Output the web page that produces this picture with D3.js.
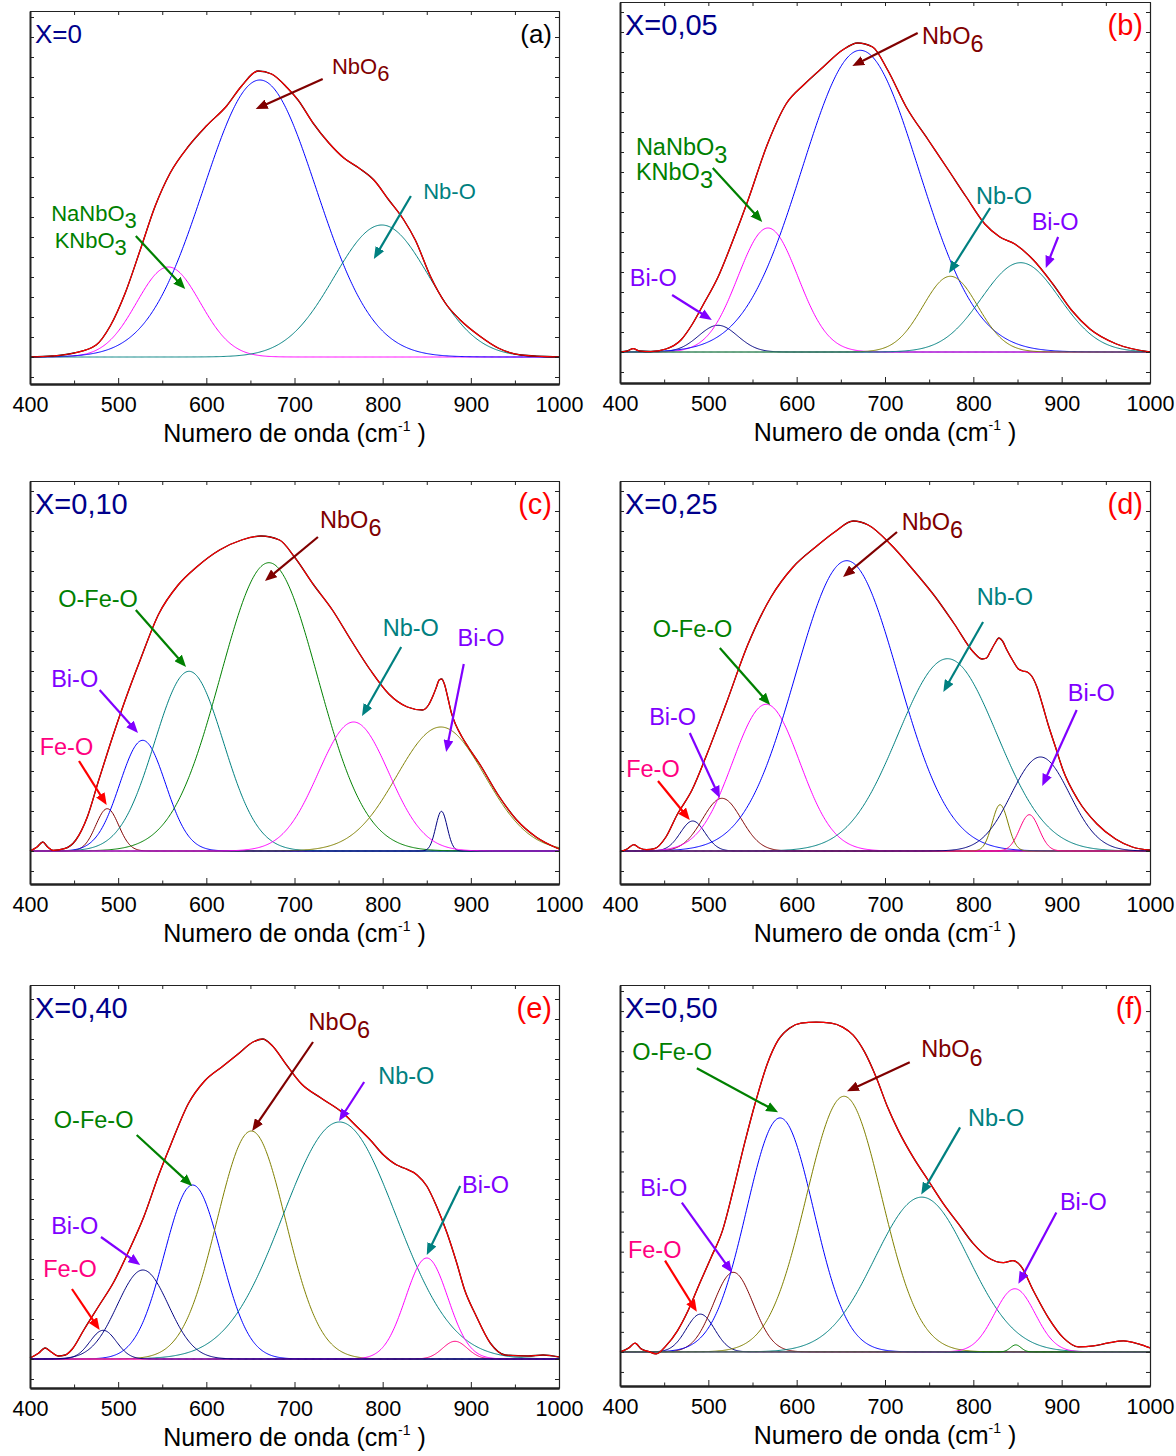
<!DOCTYPE html>
<html>
<head>
<meta charset="utf-8">
<script src="https://cdn.jsdelivr.net/npm/d3@7"></script>
<style>
  body { margin: 0; background: #fff; }
  svg { display: block; }
  text { font-family: "Liberation Sans", Arial, sans-serif; }
</style>
</head>
<body>
<script>
// Raman spectra, 6 compositions, with fitted bands

// x axis
var waveTicks = [400, 500, 600, 700, 800, 900, 1000];
var waveMinor = [450, 550, 650, 750, 850, 950];

var compositions = ["X=0", "X=0,05", "X=0,10", "X=0,25", "X=0,40", "X=0,50"];
var panelLetters = ["(a)", "(b)", "(c)", "(d)", "(e)", "(f)"];

// intensity window of each panel (a.u., 0 = baseline)
var intensityRanges = [[-27, 346], [-31, 350], [-33, 370], [-33, 370], [-29, 374], [-34, 366]];

// measured spectra : [wavenumber, intensity]
var spectrumA = [[400,0],[425,1],[450,4],[475,12],[491,31],[508,64],[525,107],[542,151],[559,184],[580,211],
  [600,231],[623,251],[640,271],[659,286],[674,283],[692,269],[704,257],[721,234],[739,214],[756,199],
  [773,189],[790,177],[807,157],[824,137],[837,117],[854,81],[871,54],[888,37],[910,21],[931,9],[957,2],[1000,0]];
var spectrumB = [[400,0],[408,1],[415,3.3],[422,1],[435,0.5],[452,3],[469,12],[482,28],[494,47],[511,75],
  [528,112],[545,152],[567,208],[588,248],[609,268],[630,285],[652,302],[669,309],[686,305],[703,282],
  [724,245],[749,212],[771,183],[792,155],[813,128],[830,115],[847,108],[868,92],[890,68],[911,42],
  [932,23],[962,8],[1000,0]];
var spectrumC = [[400,0],[408,4],[414.5,9],[420,4],[426,0.7],[439,2.3],[452,11],[465,34],[478,71],[491,107],
  [508,151],[525,191],[546,237],[568,266],[589,284],[615,301],[640,311],[662,315],[683,311],[700,294],
  [721,267],[743,241],[764,211],[786,181],[807,157],[828,144],[845,141],[852,146],[857,155],[861,164],
  [864,171],[867,172],[870,167],[874,153],[878,138],[883,126],[890,114],[897,104],[910,87],[931,56],
  [952,31],[974,14],[1000,2]];
var spectrumD = [[400,-1],[408,2],[415.7,6.3],[422,3],[430,1.3],[439,2.3],[452,14],[464.5,36],[481.5,61],
  [498.5,97],[520,147],[545,207],[571,254],[596,284],[621.5,304],[643,319],[664,330],[681,326],[706,307],
  [732,281],[757,254],[778.5,227],[800,199],[810,192],[815,193],[819,199],[824,207],[829,213],[833,210],
  [838,201],[845,190],[851,182],[856,180],[861,179],[866,175],[872,164],[878,147],[884.5,127],[893,104],
  [901.5,81],[918.5,51],[940,27],[961,12],[980,4],[1000,1]];
var spectrumE = [[400,1],[410,6],[417,11],[424,7],[432,3],[440,4],[448,10],[461,29],[478,53],[495,77],
  [512,108],[529,142],[546,184],[560,215],[580,256],[598,278],[619,293],[636,305],[653,317],[664,320],
  [674,314],[691,294],[708,275],[730,261],[755,246],[770,233],[786,219],[801,204],[816,194],[824,191],
  [839,184],[850,173],[861,153],[873,126],[884,96],[893,69],[905,45],[922,16],[939,4],[965,3],[982,4],[1000,2]];
var spectrumF = [[400,0],[410,4],[417,8.7],[424,3],[432,0.5],[441,-2],[452,6],[465,21],[477,41],[490,68],
  [503,94],[516,121],[528,161],[541,208],[554,251],[567,288],[579,311],[592,323],[605,328],[622,329],
  [639,328],[652,324],[664,316],[677,299],[690,274],[703,244],[715,221],[732,194],[749,171],[766,148],
  [783,128],[800,108],[817,94],[834,89],[845,91],[853.5,86],[868,61],[885,34],[902,14],[919,5],[936,6],
  [953,9],[970,11],[987,8],[1000,4]];

// fitted bands : [centre, height, sigma]
var bandsA = [[557,90,36],[660.7,277,64],[799,132,54]];
var bandsB = [[511,26.7,22],[567.5,124,34],[672,301.7,66],[774,75.7,31],[853.5,89.3,44]];
var bandsC = [[487.6,42.3,13],[527.8,110.7,26],[580.4,179.7,39],[671,288.3,55],[866,124,50],[866.7,39.7,6.5],[767,129,40]];
var bandsD = [[482.3,30,14],[515.4,52.7,22],[565.5,146.7,38],[656.7,290.3,58],[770.8,192.3,56],[830.3,46.3,9],[863.4,36.3,11],[876,94,33]];
var bandsE = [[584.5,174,32],[651,228,39],[751,237,64],[850,101,24],[882,17.7,14],[483,28.7,15],[528,89,29]];
var bandsF = [[491,37.7,16],[528.3,79.4,22.5],[581.2,233.4,38],[653.6,255,42.7],[741.6,154.4,53],[847,63,23],[848,7,6]];

var bandColorsA = ["#ff00ff","#0000ff","#008080"];
var bandColorsB = ["#000080","#ff00ff","#0000ff","#808000","#008080"];
var bandColorsC = ["#800000","#0000ff","#008080","#008000","#808000","#000080","#ff00ff"];
var bandColorsD = ["#000080","#800000","#ff00ff","#0000ff","#008080","#808000","#ff0080","#000080"];
var bandColorsE = ["#0000ff","#808000","#008080","#ff00ff","#ff0080","#000080","#000080"];
var bandColorsF = ["#000080","#800000","#0000ff","#808000","#008080","#ff00ff","#008000"];

var DR = "#800000", GR = "#008000", TE = "#008080", VI = "#8000ff", PK = "#ff0080", RD = "#ff0000";

// annotations, in data coordinates (wavenumber, intensity)
var notesA = [
  {t:"NbO", s:"6", at:[742.5,291], from:[732,278], to:[656,248], tc:DR, ac:DR},
  {t:"NaNbO", s:"3", at:[424,144], tc:GR},
  {t:"KNbO", s:"3", at:[428,117], from:[520,121], to:[576,68], tc:GR, ac:GR},
  {t:"Nb-O", at:[846,166], from:[832,161], to:[790,98], tc:TE, ac:TE}
];
var notesB = [
  {t:"NbO", s:"6", at:[742,316], from:[737,319], to:[663,286], tc:DR, ac:DR},
  {t:"NaNbO", s:"3", at:[418,205], tc:GR},
  {t:"KNbO", s:"3", at:[418,180], from:[505,184], to:[561,130], tc:GR, ac:GR},
  {t:"Bi-O", at:[411,74], from:[459,57], to:[504,32], tc:VI, ac:VI},
  {t:"Nb-O", at:[803,156], from:[819,144], to:[772.5,79], tc:TE, ac:TE},
  {t:"Bi-O", at:[866,130], from:[896,115], to:[882,84], tc:VI, ac:VI}
];
var notesC = [
  {t:"NbO", s:"6", at:[729,331], from:[726.6,314], to:[666.5,270], tc:DR, ac:DR},
  {t:"O-Fe-O", at:[432,252], from:[520,241], to:[577,184], tc:GR, ac:GR},
  {t:"Bi-O", at:[424,172], from:[479,161], to:[522.5,118], tc:VI, ac:VI},
  {t:"Fe-O", at:[411,104], from:[455.6,90], to:[487,46], tc:PK, ac:RD},
  {t:"Nb-O", at:[800,223], from:[821,204], to:[776.6,135], tc:TE, ac:TE},
  {t:"Bi-O", at:[885,213], from:[892,187], to:[872,99], tc:VI, ac:VI}
];
var notesD = [
  {t:"NbO", s:"6", at:[719,329], from:[713.6,319], to:[652.5,274], tc:DR, ac:DR},
  {t:"O-Fe-O", at:[437,222], from:[513,203], to:[570,146], tc:GR, ac:GR},
  {t:"Bi-O", at:[433,134], from:[479,118], to:[513,53], tc:VI, ac:VI},
  {t:"Fe-O", at:[407,82], from:[443,70], to:[479,31], tc:PK, ac:RD},
  {t:"Nb-O", at:[804,254], from:[811,229], to:[766,159], tc:TE, ac:TE},
  {t:"Bi-O", at:[907,158], from:[917,141], to:[878,65], tc:VI, ac:VI}
];
var notesE = [
  {t:"NbO", s:"6", at:[716,337], from:[721,317], to:[652,228], tc:DR, ac:DR},
  {t:"O-Fe-O", at:[427,239], from:[521,224], to:[584,173], tc:GR, ac:GR},
  {t:"Bi-O", at:[424,133], from:[480.5,122], to:[525,94], tc:VI, ac:VI},
  {t:"Fe-O", at:[415,90], from:[447.6,70], to:[479,29], tc:PK, ac:RD},
  {t:"Nb-O", at:[795,283], from:[779,277], to:[750.5,238], tc:TE, ac:VI},
  {t:"Bi-O", at:[890,174], from:[888,173], to:[850,104], tc:VI, ac:TE}
];
var notesF = [
  {t:"O-Fe-O", at:[414,299], from:[487,283], to:[579,239], tc:GR, ac:GR},
  {t:"NbO", s:"6", at:[741,302], from:[728,289], to:[657,260], tc:DR, ac:DR},
  {t:"Nb-O", at:[794,234], from:[785,224], to:[741,157], tc:TE, ac:TE},
  {t:"Bi-O", at:[423,164], from:[470,149], to:[527,79], tc:VI, ac:VI},
  {t:"Fe-O", at:[409,102], from:[451,91], to:[487,40], tc:PK, ac:RD},
  {t:"Bi-O", at:[898,150], from:[894,139], to:[851,68], tc:VI, ac:VI}
];

// page layout of the six frames
var frames = [
  {left:30,  right:559,  top:11,  bottom:384},
  {left:620, right:1150, top:2,   bottom:383},
  {left:30,  right:559,  top:481, bottom:884},
  {left:620, right:1150, top:481, bottom:884},
  {left:30,  right:559,  top:985, bottom:1388},
  {left:620, right:1150, top:985, bottom:1386}
];

var panels = [
  {spec:spectrumA, bands:bandsA, colors:bandColorsA, notes:notesA, noteSize:22, capSize:26, letterColor:"#000"},
  {spec:spectrumB, bands:bandsB, colors:bandColorsB, notes:notesB, noteSize:23.5, capSize:29, letterColor:RD},
  {spec:spectrumC, bands:bandsC, colors:bandColorsC, notes:notesC, noteSize:23.5, capSize:29, letterColor:RD},
  {spec:spectrumD, bands:bandsD, colors:bandColorsD, notes:notesD, noteSize:23.5, capSize:29, letterColor:RD},
  {spec:spectrumE, bands:bandsE, colors:bandColorsE, notes:notesE, noteSize:23.5, capSize:29, letterColor:RD},
  {spec:spectrumF, bands:bandsF, colors:bandColorsF, notes:notesF, noteSize:23.5, capSize:29, letterColor:RD}
];

var svg = d3.select("body").append("svg")
  .attr("width", 1176)
  .attr("height", 1456);
var defs = svg.append("defs");

function arrowHead(color) {
  var id = "ah" + color.slice(1);
  if (defs.select("#" + id).empty()) {
    defs.append("marker")
      .attr("id", id)
      .attr("viewBox", "0 0 12 10")
      .attr("refX", 4).attr("refY", 5)
      .attr("markerWidth", 12).attr("markerHeight", 10)
      .attr("markerUnits", "userSpaceOnUse")
      .attr("orient", "auto")
      .append("path")
      .attr("d", "M0,0 L12,5 L0,10 Z")
      .attr("fill", color);
  }
  return "url(#" + id + ")";
}

var grid = d3.range(400, 1000.5, 1);

panels.forEach(function(p, i) {
  var f = frames[i];
  var x = d3.scaleLinear().domain([400, 1000]).range([f.left, f.right]);
  var y = d3.scaleLinear().domain(intensityRanges[i]).range([f.bottom, f.top]);
  var line = d3.line().x(function(d){ return x(d[0]); }).y(function(d){ return y(d[1]); });
  var g = svg.append("g");

  // fitted bands
  p.bands.forEach(function(b, k) {
    var pts = grid.map(function(w) {
      return [w, b[1] * Math.exp(-0.5 * Math.pow((w - b[0]) / b[2], 2))];
    });
    g.append("path").datum(pts)
      .attr("d", line)
      .attr("fill", "none")
      .attr("stroke", p.colors[k])
      .attr("stroke-width", 1);
  });

  // experimental (black) under cumulative fit (red)
  var smooth = d3.line().curve(d3.curveMonotoneX)
    .x(function(d){ return x(d[0]); }).y(function(d){ return y(d[1]); });
  g.append("path").datum(p.spec).attr("d", smooth)
    .attr("fill", "none").attr("stroke", "#000").attr("stroke-width", 1.3);
  g.append("path").datum(p.spec).attr("d", smooth)
    .attr("fill", "none").attr("stroke", "#f00").attr("stroke-width", 1.2);

  // axes (all ticks inward)
  function styleAxis(a, w) {
    a.attr("font-family", null).attr("font-size", null);
    a.select(".domain").attr("stroke", "#222").attr("stroke-width", w);
    a.selectAll(".tick line").attr("stroke", "#222").attr("stroke-width", 1);
  }
  var bottom = g.append("g").attr("transform", "translate(0," + f.bottom + ")")
    .call(d3.axisBottom(x).tickValues(waveTicks).tickFormat(d3.format("d"))
      .tickSizeInner(-6).tickSizeOuter(0).tickPadding(13));
  styleAxis(bottom, 2);
  bottom.selectAll("text").attr("font-size", 21.5).attr("fill", "#000");
  var bottomMinor = g.append("g").attr("transform", "translate(0," + f.bottom + ")")
    .call(d3.axisBottom(x).tickValues(waveMinor).tickSizeInner(-3.5).tickSizeOuter(0).tickFormat(""));
  styleAxis(bottomMinor, 2);
  var top = g.append("g").attr("transform", "translate(0," + f.top + ")")
    .call(d3.axisTop(x).tickValues(waveTicks.concat(waveMinor)).tickSizeInner(-4).tickSizeOuter(0).tickFormat(""));
  styleAxis(top, 1.2);
  var yt = y.ticks(14);
  var left = g.append("g").attr("transform", "translate(" + f.left + ",0)")
    .call(d3.axisLeft(y).tickValues(yt).tickSizeInner(-4).tickSizeOuter(0).tickFormat(""));
  styleAxis(left, 2);
  var right = g.append("g").attr("transform", "translate(" + f.right + ",0)")
    .call(d3.axisRight(y).tickValues(yt).tickSizeInner(-4).tickSizeOuter(0).tickFormat(""));
  styleAxis(right, 1.2);

  // axis title
  var title = g.append("text")
    .attr("x", (f.left + f.right) / 2)
    .attr("y", f.bottom + 49)
    .attr("dy", "0.35em")
    .attr("text-anchor", "middle")
    .attr("font-size", 25);
  title.append("tspan").text("Numero de onda (cm");
  title.append("tspan").attr("font-size", 14).attr("dy", -11).text("-1");
  title.append("tspan").attr("dy", 11).text(" )");

  // corner labels
  g.append("text")
    .attr("x", f.left + 5).attr("y", f.top + 23).attr("dy", "0.35em")
    .attr("font-size", p.capSize).attr("fill", "#00008b")
    .text(compositions[i]);
  g.append("text")
    .attr("x", f.right - 7).attr("y", f.top + 23).attr("dy", "0.35em")
    .attr("text-anchor", "end")
    .attr("font-size", p.capSize).attr("fill", p.letterColor)
    .text(panelLetters[i]);

  // band assignments
  p.notes.forEach(function(n) {
    var t = g.append("text")
      .attr("x", x(n.at[0])).attr("y", y(n.at[1])).attr("dy", "0.35em")
      .attr("font-size", p.noteSize).attr("fill", n.tc);
    t.append("tspan").text(n.t);
    if (n.s) t.append("tspan").attr("dy", "0.35em").text(n.s);
    if (n.from) {
      var x1 = x(n.from[0]), y1 = y(n.from[1]), x2 = x(n.to[0]), y2 = y(n.to[1]);
      var len = Math.hypot(x2 - x1, y2 - y1), cut = 8;
      g.append("line")
        .attr("x1", x1).attr("y1", y1)
        .attr("x2", x2 - (x2 - x1) * cut / len)
        .attr("y2", y2 - (y2 - y1) * cut / len)
        .attr("stroke", n.ac).attr("stroke-width", 2.2)
        .attr("marker-end", arrowHead(n.ac));
    }
  });
});
</script>
</body>
</html>
